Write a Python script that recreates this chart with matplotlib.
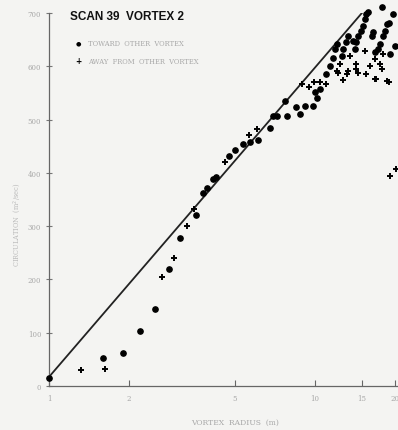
"""Circulation vs vortex radius, scan 39 vortex 2."""

import matplotlib
matplotlib.use("Agg")
import matplotlib.pyplot as plt

# toward other vortex (filled dots)
toward_r = [1.0, 1.60, 1.90, 2.20, 2.50, 2.83, 3.11, 3.56, 3.80, 3.92, 4.15, 4.25,
            4.76, 5.0, 5.35, 5.70, 6.12, 6.77, 6.97, 7.17, 7.7, 7.87, 8.5, 8.77,
            9.17, 9.85, 10.0, 10.15, 10.4, 11.0, 11.4, 11.7, 12.6, 13.1, 13.3,
            13.9, 14.1, 14.3, 14.5, 14.9, 15.2, 15.4, 15.6, 15.86, 16.3, 16.5,
            16.8, 17.3, 17.5, 17.8, 18.0, 18.3, 18.6, 19.0, 19.1, 19.7, 20.0,
            12.05, 11.9, 12.75]
toward_g = [15, 52, 62, 104, 144, 220, 278, 320, 362, 372, 388, 392,
            432, 443, 454, 457, 462, 485, 507, 507, 535, 507, 523, 510,
            526, 526, 551, 541, 557, 585, 601, 616, 620, 645, 657,
            648, 632, 645, 657, 667, 676, 689, 698, 701, 657, 664,
            626, 632, 642, 712, 657, 667, 679, 682, 623, 698, 638,
            642, 632, 632]

# away from other vortex (plus signs)
away_r = [1.32, 1.63, 2.66, 2.96, 3.29, 3.51, 4.59, 5.66, 6.04, 8.91, 9.52, 9.94,
          10.4, 11.0, 12.1, 12.24, 12.78, 13.15, 12.4, 13.5, 14.3, 14.3, 15.4,
          15.6, 16.1, 16.8, 16.8, 17.5, 17.8, 18.0, 17.0, 18.6, 18.9, 13.3,
          14.5, 19.1, 20.2]
away_g = [30, 32, 204, 240, 300, 332, 421, 471, 482, 567, 562, 570,
          570, 567, 592, 588, 575, 585, 604, 620, 604, 595, 629,
          585, 601, 613, 576, 604, 595, 623, 576, 573, 570, 592,
          588, 395, 407]

# reference line end points
line_r = [1.0, 15.0]
line_g = [17, 700]

x_ticks = [1, 2, 5, 10, 15, 20]
y_ticks = [0, 100, 200, 300, 400, 500, 600, 700]

bg = "#f4f4f2"
faint = "#a8a8a8"

fig = plt.figure(figsize=(3.98, 4.31), dpi=100, facecolor=bg)
ax = fig.add_axes([49 / 398, 44 / 431, 349 / 398, 373 / 431])
ax.set_facecolor(bg)

ax.plot(line_r, line_g, color="#222222", linewidth=1.3, zorder=2)
ax.plot(toward_r, toward_g, linestyle="none", marker="o", markersize=3.8,
        color="black", zorder=3, clip_on=False)
ax.plot(away_r, away_g, linestyle="none", marker="+", markersize=4,
        markeredgewidth=1.4, color="black", zorder=3)

ax.set_xscale("log")
ax.set_xlim(1, 20.5)
ax.set_ylim(0, 700)

ax.set_xticks(x_ticks)
ax.set_xticklabels([str(t) for t in x_ticks])
ax.minorticks_off()
ax.set_yticks(y_ticks)
ax.set_yticklabels(["0"] + [str(t) for t in y_ticks[1:]])
ax.tick_params(axis="x", direction="in", length=4, color="#666666",
               labelsize=5, labelcolor=faint, pad=6)
ax.tick_params(axis="y", direction="inout", length=5, color="#777777",
               labelsize=5, labelcolor=faint, pad=3)
for lbl in ax.get_xticklabels() + ax.get_yticklabels():
    lbl.set_family("DejaVu Serif")

ax.spines["top"].set_visible(False)
ax.spines["right"].set_visible(False)
for s in ("left", "bottom"):
    ax.spines[s].set_color("#666666")
    ax.spines[s].set_linewidth(0.9)

# title and legend
fig.text(70 / 398, 1 - 17 / 431, "SCAN 39  VORTEX 2", fontsize=8.5, fontweight="bold",
         family=["Liberation Sans Narrow", "Liberation Sans", "DejaVu Sans"],
         va="center", color="#111111")
fig.text(78 / 398, 1 - 44 / 431, "●", fontsize=4.5, va="center", ha="center", color="black")
fig.text(88 / 398, 1 - 44 / 431, "TOWARD  OTHER  VORTEX", fontsize=4.9, va="center",
         family="DejaVu Serif", color=faint)
fig.text(78 / 398, 1 - 62 / 431, "+", fontsize=5.5, fontweight="bold", va="center",
         ha="center", color="black")
fig.text(88 / 398, 1 - 62 / 431, "AWAY  FROM  OTHER  VORTEX", fontsize=4.9, va="center",
         family="DejaVu Serif", color=faint)

fig.text(17 / 398, 1 - 225 / 431, "CIRCULATION  (m$^2$/sec)", rotation=90, fontsize=4.8,
         va="center", ha="center", family="DejaVu Serif", color="#bbbbbb")
fig.text(235 / 398, 1 - 423 / 431, "VORTEX  RADIUS  (m)", fontsize=5.5, va="center",
         ha="center", family="DejaVu Serif", color=faint)

fig.savefig("out.png", dpi=100, facecolor=bg)
